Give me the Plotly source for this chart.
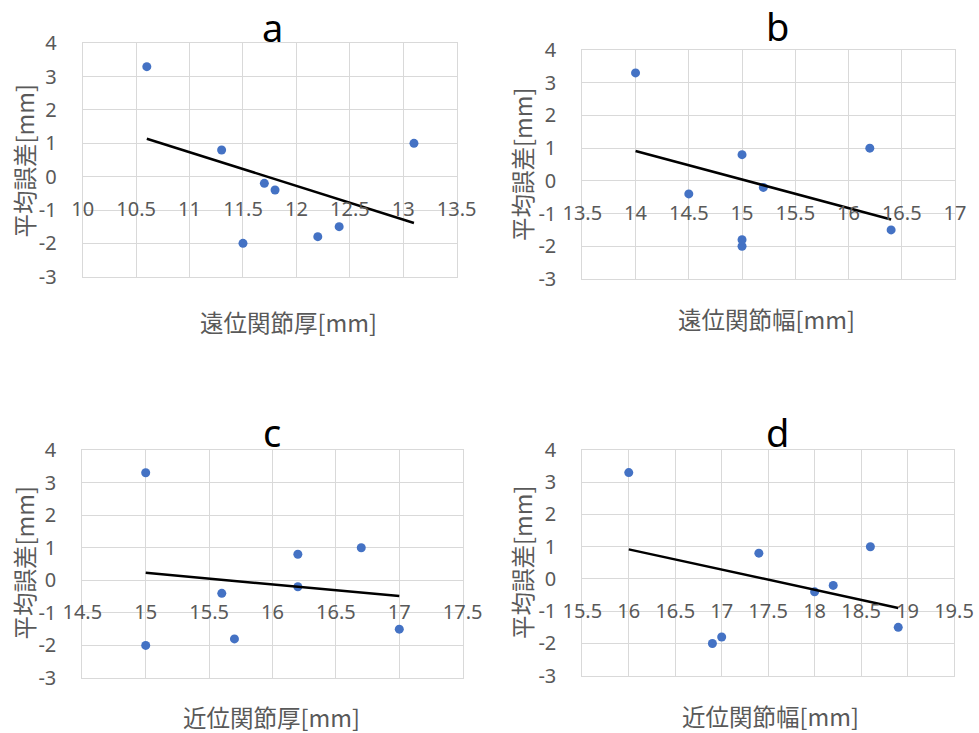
import numpy as np
import plotly.graph_objects as go

W, H = 979, 733

# ---- data ----
mean_error = [3.3, 0.8, -0.2, -0.4, -2.0, -1.8, -1.5, 1.0]
distal_thickness = [10.6, 11.3, 11.7, 11.8, 11.5, 12.2, 12.4, 13.1]
distal_width = [14.0, 15.0, 15.2, 14.5, 15.0, 15.0, 16.4, 16.2]
proximal_thickness = [15.0, 16.2, 16.2, 15.6, 15.0, 15.7, 17.0, 16.7]
proximal_width = [16.0, 17.4, 18.2, 18.0, 16.9, 17.0, 18.9, 18.6]

panel_titles = ["a", "b", "c", "d"]
x_titles = ["遠位関節厚[mm]", "遠位関節幅[mm]", "近位関節厚[mm]", "近位関節幅[mm]"]
y_title = "平均誤差[mm]"
x_ranges = [[10, 13.5], [13.5, 17], [14.5, 17.5], [15.5, 19.5]]
y_tickvals = [-3, -2, -1, 0, 1, 2, 3, 4]
y_ticktext = ["-3", "-2", "-1", "0", "1", "2", "3", "4"]
x_series = [distal_thickness, distal_width, proximal_thickness, proximal_width]

# ---- layout in window pixels (left, right, top, bottom) ----
plot_boxes = [
    (82.7, 456.7, 43.3, 276.7),
    (582.3, 955.0, 50.0, 279.0),
    (82.3, 462.7, 450.0, 678.0),
    (582.3, 954.0, 450.0, 675.7),
]
title_pos = [(272.5, 27), (777, 26), (272, 432), (777, 432)]
xtitle_pos = [(288, 322), (766.7, 319), (271.7, 716.5), (770.5, 716)]
ytitle_pos = [(23.5, 161), (522, 165), (23.5, 563), (522, 563)]

GRID = "#d9d9d9"
TICKC = "#595959"
FONT = "Noto Sans, Noto Sans CJK JP, sans-serif"
JFONT = "Noto Sans CJK JP, Noto Sans, sans-serif"


def px(x):
    return x / W


def py(y):
    return 1 - y / H


fig = go.Figure()
layout = dict(
    width=W, height=H, margin=dict(l=0, r=0, t=0, b=0, autoexpand=False),
    paper_bgcolor="white", plot_bgcolor="white", showlegend=False,
    font=dict(family=FONT, color=TICKC),
)
annotations = []
yr = [-3, 4]

for i in range(4):
    n = i + 1
    L, R, T, B = plot_boxes[i]
    xd = [px(L), px(R)]
    yd = [py(B), py(T)]
    xs = x_series[i]
    xa = f"x{n}" if n > 1 else "x"
    ya = f"y{n}" if n > 1 else "y"
    xl = f"x{n+4}"

    # scatter points
    fig.add_trace(go.Scatter(
        x=xs, y=mean_error, mode="markers", xaxis=xa, yaxis=ya,
        marker=dict(color="#4472C4", size=9), hoverinfo="x+y"))
    # linear trend line
    k, b = np.polyfit(xs, mean_error, 1)
    tx = [min(xs), max(xs)]
    fig.add_trace(go.Scatter(
        x=tx, y=[k * v + b for v in tx], mode="lines", xaxis=xa, yaxis=ya,
        line=dict(color="black", width=2.5), hoverinfo="skip"))
    # invisible trace on the tick-label axis
    fig.add_trace(go.Scatter(
        x=x_ranges[i], y=[0, 0], mode="markers", xaxis=xl, yaxis=ya,
        marker=dict(opacity=0), hoverinfo="skip"))

    xkey = "xaxis" if n == 1 else f"xaxis{n}"
    ykey = "yaxis" if n == 1 else f"yaxis{n}"
    layout[xkey] = dict(
        domain=xd, anchor=ya, range=x_ranges[i], dtick=0.5, tick0=0,
        showgrid=True, gridcolor=GRID, gridwidth=1, zeroline=False,
        showline=True, linecolor=GRID, linewidth=1, mirror=True,
        showticklabels=False, ticks="", automargin=False)
    layout[ykey] = dict(
        domain=yd, anchor=xa, range=yr, tickvals=y_tickvals, ticktext=y_ticktext,
        showgrid=True, gridcolor=GRID, gridwidth=1, zeroline=False,
        showline=True, linecolor=GRID, linewidth=1, mirror=True,
        ticks="", ticklabelstandoff=21, automargin=False,
        tickfont=dict(size=20, color=TICKC, family=FONT))
    zero_pos = yd[0] + (0 - yr[0]) / (yr[1] - yr[0]) * (yd[1] - yd[0])
    layout[f"xaxis{n+4}"] = dict(
        overlaying=xa, anchor="free", position=zero_pos, side="bottom",
        range=x_ranges[i], dtick=0.5, tick0=0, showgrid=False, zeroline=False,
        showline=False, ticks="", ticklabelstandoff=18, automargin=False,
        tickfont=dict(size=20, color=TICKC, family=FONT))

    tx_, ty_ = title_pos[i]
    annotations.append(dict(
        text=panel_titles[i], x=px(tx_), y=py(ty_), xref="paper", yref="paper",
        xanchor="center", yanchor="middle", showarrow=False, borderpad=0,
        font=dict(size=38, color="black", family=FONT)))
    ax_, ay_ = xtitle_pos[i]
    annotations.append(dict(
        text=x_titles[i], x=px(ax_), y=py(ay_), xref="paper", yref="paper",
        xanchor="center", yanchor="middle", showarrow=False, borderpad=0,
        font=dict(size=23.5, color=TICKC, family=JFONT)))
    bx_, by_ = ytitle_pos[i]
    annotations.append(dict(
        text=y_title, x=px(bx_), y=py(by_), xref="paper", yref="paper",
        xanchor="center", yanchor="middle", showarrow=False, textangle=-90,
        borderpad=0, font=dict(size=23.5, color=TICKC, family=JFONT)))

layout["annotations"] = annotations
fig.update_layout(**layout)
fig.write_html("out.html", config={"displayModeBar": False},
               post_script="document.body.style.margin='0';")
